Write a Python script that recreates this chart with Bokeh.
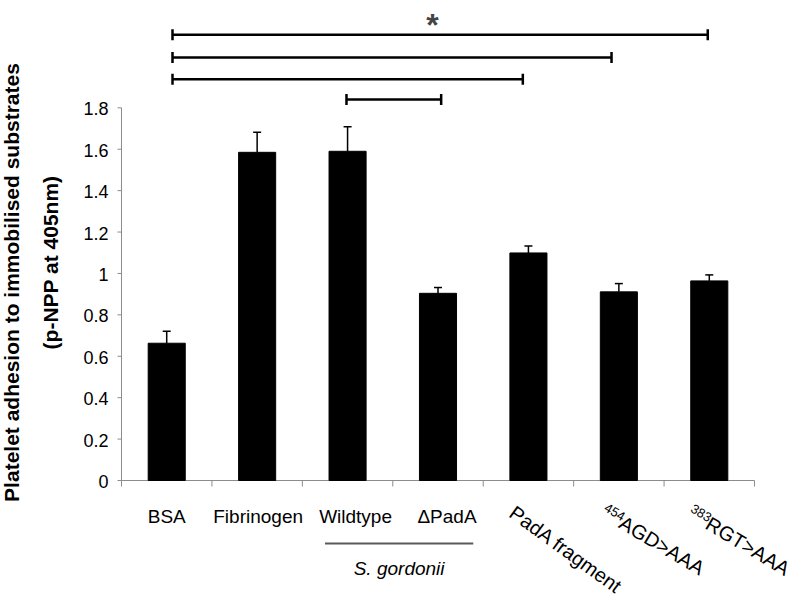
import math
from bokeh.plotting import figure
from bokeh.models import (Label, Whisker, TeeHead, ColumnDataSource, Range1d)
from bokeh.embed import file_html
from bokeh.resources import INLINE

# ---------------- data ----------------
categories = ["BSA", "Fibrinogen", "Wildtype", "\u0394PadA", "PadA fragment", "AGD>AAA", "RGT>AAA"]
superscripts = ["", "", "", "", "", "454", "383"]
values = [0.663, 1.585, 1.590, 0.904, 1.099, 0.911, 0.964]
errors = [0.058, 0.097, 0.118, 0.028, 0.034, 0.040, 0.029]
y_tick_values = [0, 0.2, 0.4, 0.6, 0.8, 1, 1.2, 1.4, 1.6, 1.8]
y_tick_labels = ["0", "0.2", "0.4", "0.6", "0.8", "1", "1.2", "1.4", "1.6", "1.8"]
y_title = ["Platelet adhesion to immobilised substrates", "(p-NPP at 405nm)"]
# significance brackets (x in category units, y in data units)
sig_x0 = [0.564, 0.564, 0.564, 2.488]
sig_x1 = [6.483, 5.419, 4.438, 3.535]
sig_y = [2.153, 2.043, 1.938, 1.840]
star_x, star_y = 3.44, 2.24
group_label = "S. gordonii"
group_span = [2.25, 3.89]

# ---------------- layout / style ----------------
W, H = 800, 598
X0_PX, Y0_PX = 121, 480          # canvas position of data origin
X1_PX, Y18_PX = 754, 107.3       # canvas position of x=7 and y=1.8
n = len(categories)
px_x = (X1_PX - X0_PX) / n
px_y = (Y0_PX - Y18_PX) / 1.8
FONT = "Liberation Sans"
AX_COL = "#8c8c8c"

xc = [i + 0.5 for i in range(n)]
src = ColumnDataSource(dict(x=xc, top=values, upper=[v + e for v, e in zip(values, errors)]))

p = figure(width=W, height=H,
           x_range=Range1d(-X0_PX / px_x, (W - X0_PX) / px_x),
           y_range=Range1d(-(H - Y0_PX) / px_y, Y0_PX / px_y),
           x_axis_location=None, y_axis_location=None,
           output_backend="svg", toolbar_location=None, min_border=0)
p.outline_line_color = None
p.grid.visible = False
p.background_fill_color = "white"
p.border_fill_color = "white"

# ---- axes drawn from data ----
ymax = y_tick_values[-1]
p.segment(x0=[0], y0=[0], x1=[0], y1=[ymax], line_color=AX_COL, line_width=1)
p.segment(x0=[0], y0=[0], x1=[n], y1=[0], line_color=AX_COL, line_width=1)
tick_y = 4 / px_x
p.segment(x0=[-tick_y] * len(y_tick_values), y0=y_tick_values,
          x1=[0] * len(y_tick_values), y1=y_tick_values, line_color=AX_COL, line_width=1)
xt = list(range(n + 1))
tick_x = 6 / px_y
p.segment(x0=xt, y0=[0] * len(xt), x1=xt, y1=[-tick_x] * len(xt), line_color=AX_COL, line_width=1)
for v, lab in zip(y_tick_values, y_tick_labels):
    p.add_layout(Label(x=0, y=v, x_offset=-13, y_offset=-1, text=lab, text_font=FONT,
                       text_font_size="18px", text_align="right", text_baseline="middle",
                       text_color="black"))

# bars
p.vbar(x="x", top="top", width=0.41, source=src, fill_color="black", line_color="black")

# error bars (upper only)
p.add_layout(Whisker(base="x", lower="top", upper="upper", source=src,
                     line_color="black", line_width=1.5,
                     upper_head=TeeHead(size=8, line_color="black", line_width=1.5),
                     lower_head=None))

# significance brackets
cap = 5.5 / px_y
p.segment(x0=sig_x0, y0=sig_y, x1=sig_x1, y1=sig_y, line_color="black", line_width=2.5)
p.segment(x0=sig_x0, y0=[y - cap for y in sig_y], x1=sig_x0, y1=[y + cap for y in sig_y],
          line_color="black", line_width=2.5)
p.segment(x0=sig_x1, y0=[y - cap for y in sig_y], x1=sig_x1, y1=[y + cap for y in sig_y],
          line_color="black", line_width=2.5)
p.add_layout(Label(x=star_x, y=star_y, text="*", text_font=FONT, text_font_size="32px",
                   text_font_style="bold", text_align="center", text_baseline="middle",
                   y_offset=-8))

# category labels
horiz_dx = [0, 1, 8, 9]
rot_deg = [0, 0, 0, 0, 36, 31, 31]
rot_anchor = [None, None, None, None, (-10, 21), (-11, 22), (-15, 23)]
for i, name in enumerate(categories):
    if i < 4:
        p.add_layout(Label(x=xc[i], y=0, x_offset=horiz_dx[i], y_offset=-36, text=name,
                           text_font=FONT, text_font_size="19px", text_align="center",
                           text_baseline="middle", text_color="black"))
    else:
        theta = math.radians(rot_deg[i])
        ax, ay = rot_anchor[i]  # screen offsets (y down)
        sup = superscripts[i]
        if sup:
            p.add_layout(Label(x=xc[i], y=0, x_offset=ax, y_offset=-ay, text=sup,
                               text_font=FONT, text_font_size="13px", text_align="left",
                               text_baseline="top", angle=-theta, text_color="black"))
            w, d = 21, -2
            ax = ax + w * math.cos(theta) - d * math.sin(theta)
            ay = ay + w * math.sin(theta) + d * math.cos(theta)
        p.add_layout(Label(x=xc[i], y=0, x_offset=ax, y_offset=-ay, text=name,
                           text_font=FONT, text_font_size="20px", text_align="left",
                           text_baseline="top", angle=-theta, text_color="black"))

# S. gordonii group
gy = -63 / px_y
p.segment(x0=[group_span[0]], y0=[gy], x1=[group_span[1]], y1=[gy],
          line_color="#5a5a5a", line_width=2)
p.add_layout(Label(x=sum(group_span) / 2, y=0, y_offset=-88, text=group_label,
                   text_font=FONT, text_font_size="19px", text_font_style="italic",
                   text_align="center", text_baseline="middle", text_color="black"))

# y title (two lines)
for txt, dx, cy in zip(y_title, [-110, -71], [198, 218]):
    p.add_layout(Label(x=0, y=0, x_offset=dx, y_offset=cy, text=txt, angle=math.pi / 2,
                       text_font=FONT, text_font_size="21px", text_font_style="bold",
                       text_align="center", text_baseline="middle", text_color="black"))

open("out.html", "w").write(file_html(p, INLINE))
